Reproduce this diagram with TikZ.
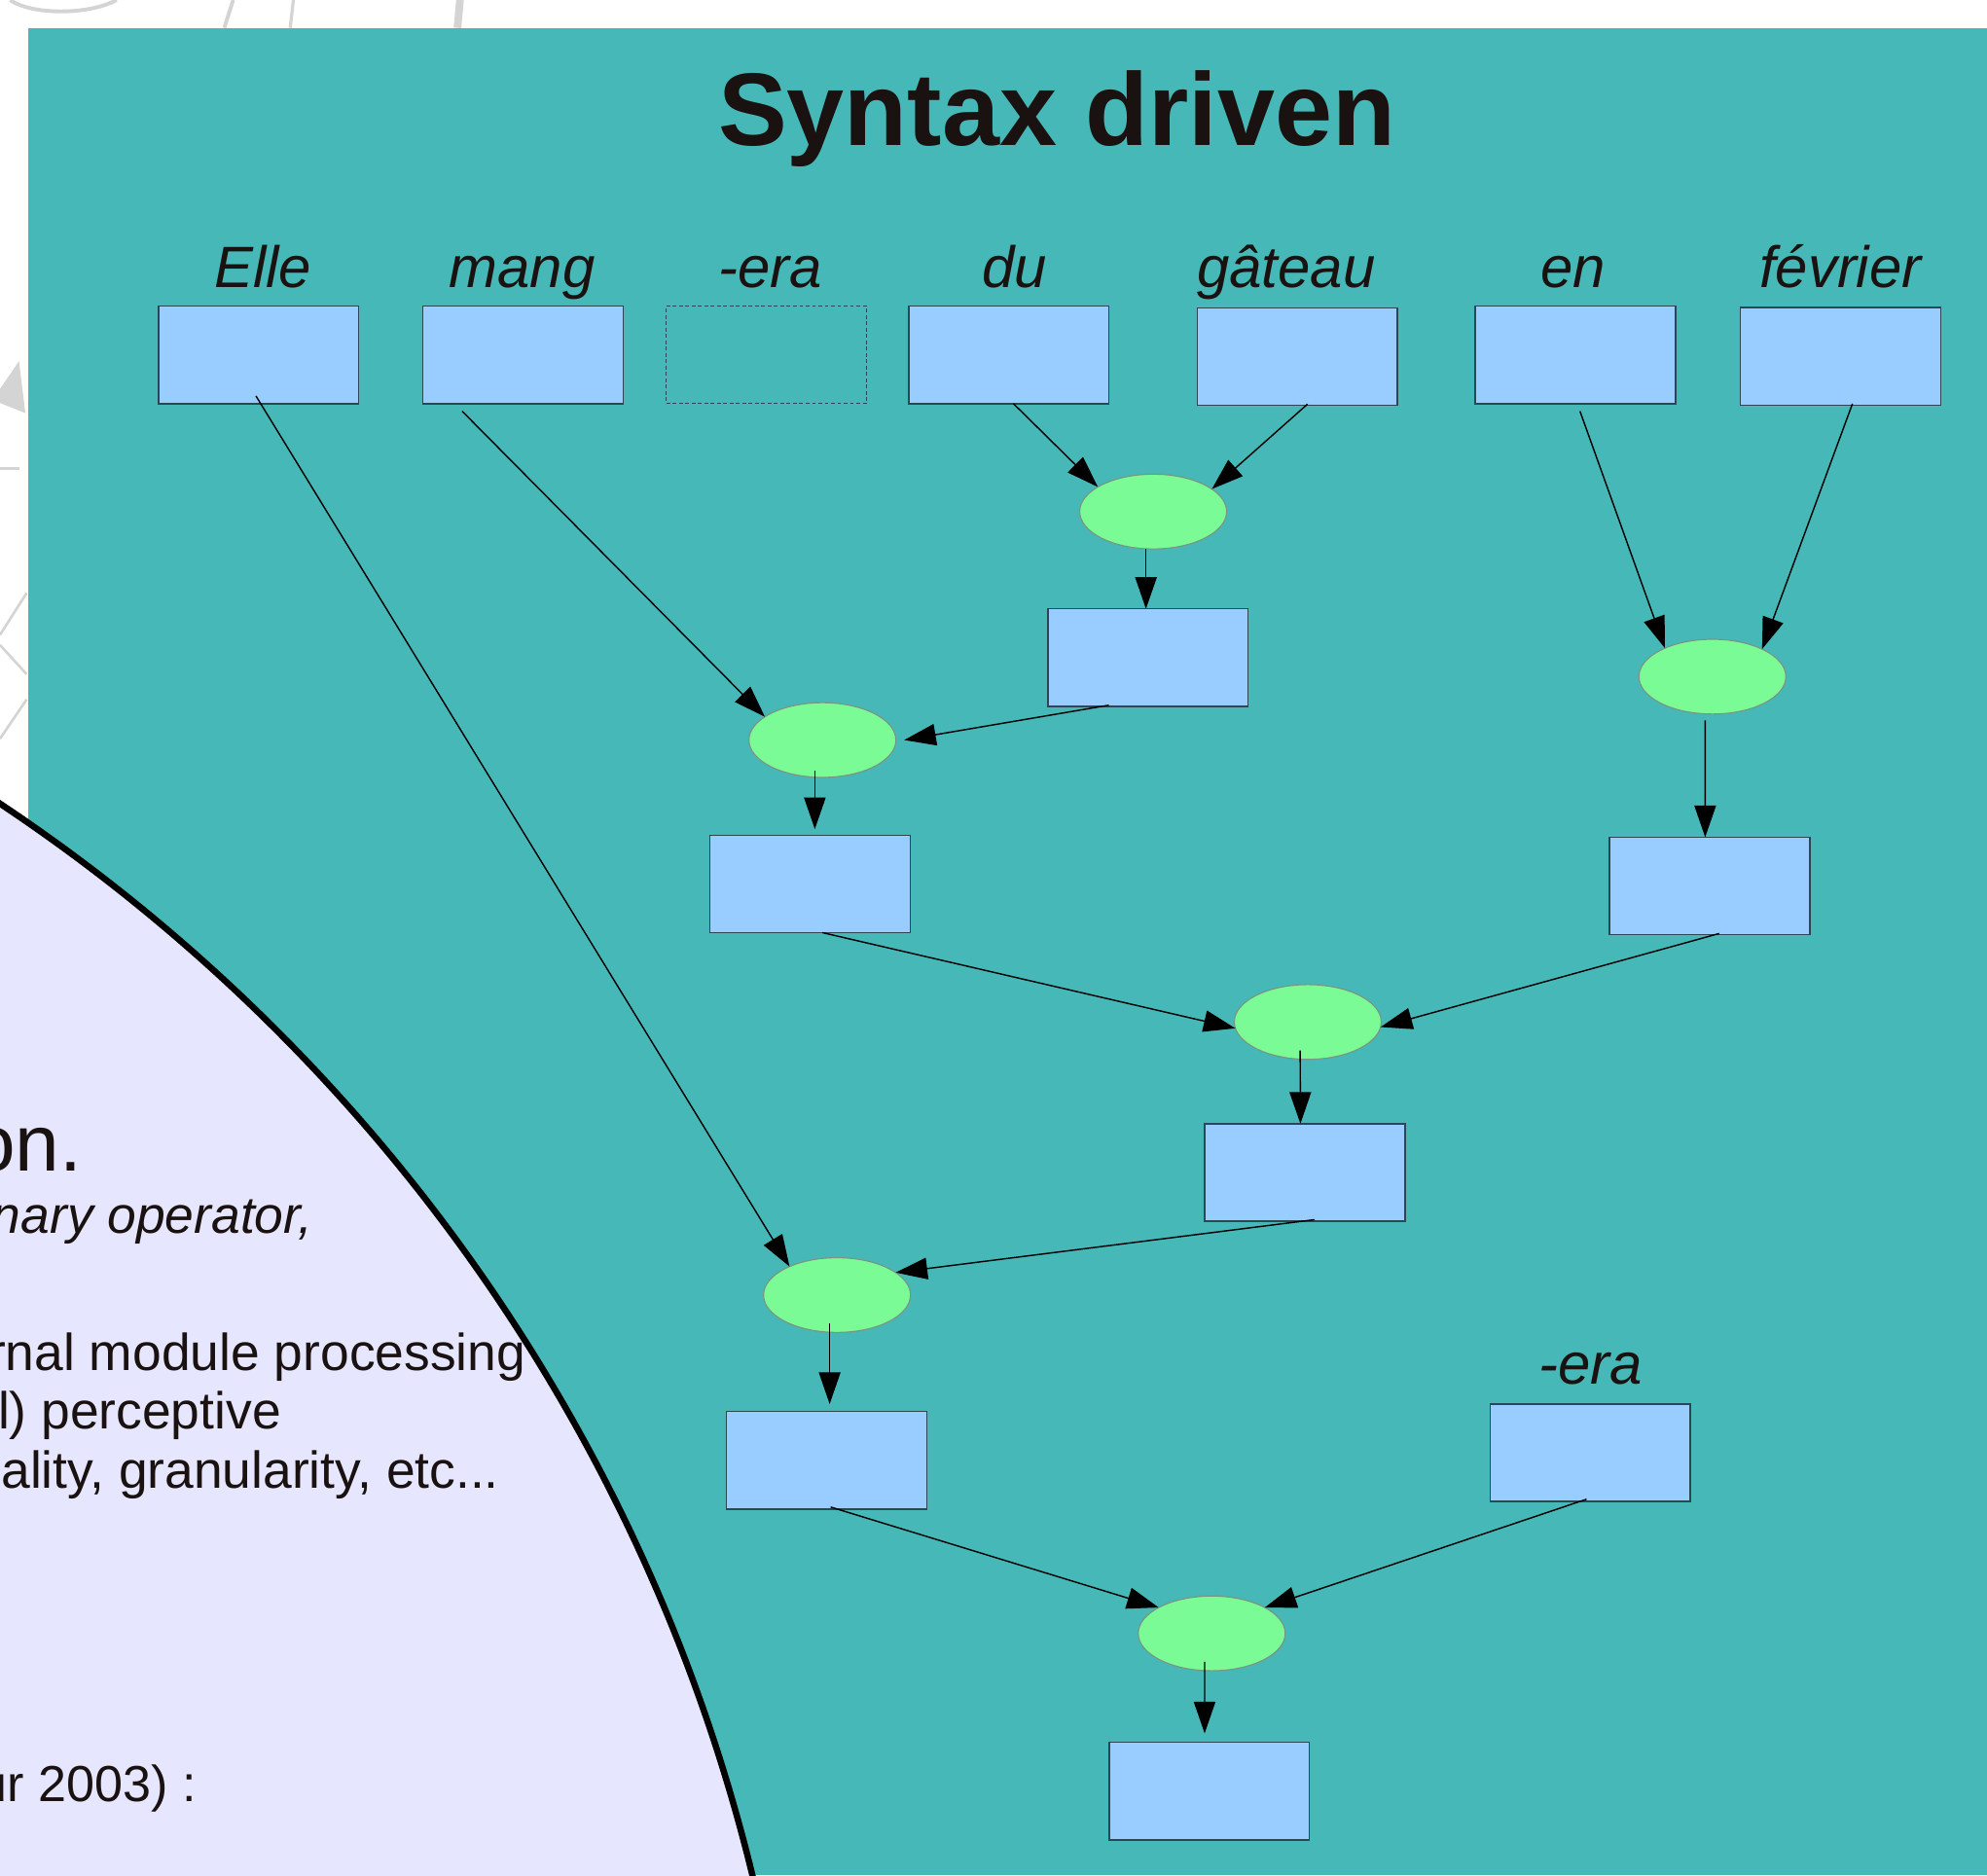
\documentclass[tikz,border=0pt]{standalone}
\usepackage{fontspec}
\setmainfont{Liberation Sans}
\usetikzlibrary{arrows.meta,shapes.geometric}
\definecolor{teal1}{RGB}{71,184,184}
\definecolor{boxblue}{RGB}{153,204,255}
\definecolor{boxline}{RGB}{45,70,85}
\definecolor{opgreen}{RGB}{122,251,150}
\definecolor{opline}{RGB}{120,150,130}
\definecolor{lav}{RGB}{230,230,255}
\definecolor{ink}{RGB}{26,18,16}
\definecolor{sketch}{RGB}{212,212,212}
\begin{document}
\begin{tikzpicture}[x=1pt,y=-1pt,
  wordbox/.style={draw=boxline, line width=1.1pt, fill=boxblue, minimum width=158pt, minimum height=77pt, inner sep=0pt, outer sep=0pt},
  ghostbox/.style={draw=boxline, line width=0.9pt, dash pattern=on 3pt off 2pt, minimum width=158pt, minimum height=77pt, inner sep=0pt, outer sep=0pt},
  op/.style={ellipse, draw=opline, line width=0.9pt, fill=opgreen, minimum width=116pt, minimum height=59pt, inner sep=0pt, outer sep=0pt},
  word/.style={font=\fontsize{46}{50}\selectfont\itshape, text=ink, inner sep=0pt, anchor=base},
  arr/.style={draw=black, line width=1.1pt, -{Triangle[length=25pt,width=17pt]}},
  side/.style={font=\fontsize{41}{45}\selectfont, text=ink, inner sep=0pt, anchor=base east},
]
\useasboundingbox (0,0) rectangle (1568,1479.7);
\clip (0,0) rectangle (1568,1479.7);
\fill[white] (0,0) rectangle (1568,1479.7);
% faint background sketches in the margins
\draw[sketch, line width=3pt] (8,0) .. controls (25,12) and (70,12) .. (92,0);
\draw[sketch, line width=3pt] (184,0) -- (177,22);
\draw[sketch, line width=2.5pt] (231.5,0) -- (229,22);
\draw[sketch, line width=6pt] (363,0) -- (361,22);
\fill[sketch] (15,285) -- (0,307) -- (0,318) -- (20,326) -- cycle;
\draw[sketch, line width=2.5pt] (0,370) -- (15,370);
\draw[sketch, line width=2pt] (0,501) -- (21,468);
\draw[sketch, line width=2pt] (0,509) -- (21,532);
\draw[sketch, line width=2pt] (0,583) -- (21,552);
% teal panel
\fill[teal1] (22,22) rectangle (1568,1479.7);
% lavender disc
\filldraw[fill=lav, draw=black, line width=5pt] (-786,1817) circle[radius=1420];
\node[side, font=\fontsize{63}{70}\selectfont] (t1) at (65,924.5) {on.};
\node[side, font=\fontsize{41}{45}\selectfont\itshape] (t2) at (247,973.6) {nary operator,};
\node[side] (t3) at (415,1081.5) {rnal module processing};
\node[side] (t4) at (222,1127.5) {l) perceptive};
\node[side] (t5) at (394,1174.8) {ality, granularity, etc...};
\node[side, font=\fontsize{40}{44}\selectfont] (t6) at (155,1421.4) {ur 2003) :};
% title
\node[font=\fontsize{81.5}{90}\selectfont\bfseries, text=ink, anchor=base, inner sep=0pt] (title) at (834,115) {Syntax driven};
% word labels
\node[word] (lelle) at (207.5,227) {Elle};
\node[word] (lmang) at (412,227) {mang};
\node[word] (lera) at (608,227) {-era};
\node[word] (ldu) at (800.8,227) {du};
\node[word] (lgat) at (1015,227) {gâteau};
\node[word] (len) at (1241.4,227) {en};
\node[word] (lfev) at (1452.3,227) {février};
\node[word] (lera2) at (1255,1092) {-era};
% boxes
\node[wordbox] (elle) at (204,280) {};
\node[wordbox] (mang) at (412.7,280) {};
\node[ghostbox] (era) at (604.8,280) {};
\node[wordbox] (du) at (796.1,280) {};
\node[wordbox] (gat) at (1023.8,281.4) {};
\node[wordbox] (en) at (1243.1,280) {};
\node[wordbox] (fev) at (1452.3,281.1) {};
\node[wordbox] (bdu) at (906,519) {};
\node[wordbox] (b3) at (639.3,697.5) {};
\node[wordbox] (b2r) at (1349.2,699.2) {};
\node[wordbox] (b4) at (1029.7,925.3) {};
\node[wordbox] (b5) at (652.3,1152.3) {};
\node[wordbox] (bera2) at (1254.9,1146.4) {};
\node[wordbox] (b6) at (954.3,1413.4) {};
% operators
\node[op] (e1) at (910,403.7) {};
\node[op] (e2) at (1351.3,534) {};
\node[op] (e3) at (649,584) {};
\node[op] (e4) at (1032,806.5) {};
\node[op] (e5) at (660.5,1022) {};
\node[op] (e6) at (956.2,1289) {};
% connectors
\draw[arr] ([xshift=-2pt,yshift=6pt]elle.south) -- (e5.149);
\draw[arr] ([xshift=-48pt,yshift=-6pt]mang.south) -- (e3.158);
\draw[arr] ([xshift=3.6pt]du.south) -- (e1.156);
\draw[arr] ([xshift=8pt,yshift=1pt]gat.south) -- (e1.21);
\draw[arr] ([xshift=-5.7pt]e1.south) -- ([xshift=-1.7pt]bdu.north);
\draw[arr] ([xshift=3.7pt,yshift=-6pt]en.south) -- (e2.149);
\draw[arr] ([xshift=9.5pt,yshift=1pt]fev.south) -- (e2.29);
\draw[arr] ([xshift=-31pt,yshift=1pt]bdu.south) -- ([xshift=6.5pt]e3.east);
\draw[arr] ([xshift=-6pt,yshift=5pt]e3.south) -- ([xshift=3.7pt,yshift=4.7pt]b3.north);
\draw[arr] ([xshift=-5.7pt,yshift=-5pt]e2.south) -- ([xshift=-3.6pt]b2r.north);
\draw[arr] ([xshift=9.7pt]b3.south) -- (e4.185);
\draw[arr] ([xshift=7.4pt,yshift=1pt]b2r.south) -- (e4.356);
\draw[arr] ([xshift=-6pt,yshift=7pt]e4.south) -- ([xshift=-3.5pt]b4.north);
\draw[arr] ([xshift=7.7pt,yshift=1.3pt]b4.south) -- (e5.21);
\draw[arr] ([xshift=-5.8pt,yshift=7pt]e5.south) -- ([xshift=2.4pt,yshift=5.8pt]b5.north);
\draw[arr] ([xshift=3.2pt,yshift=1.5pt]b5.south) -- (e6.154);
\draw[arr] ([xshift=-2.9pt,yshift=1.8pt]bera2.south) -- (e6.26);
\draw[arr] ([xshift=-5.6pt,yshift=7pt]e6.south) -- ([xshift=-3.7pt,yshift=7pt]b6.north);
\end{tikzpicture}
\end{document}
